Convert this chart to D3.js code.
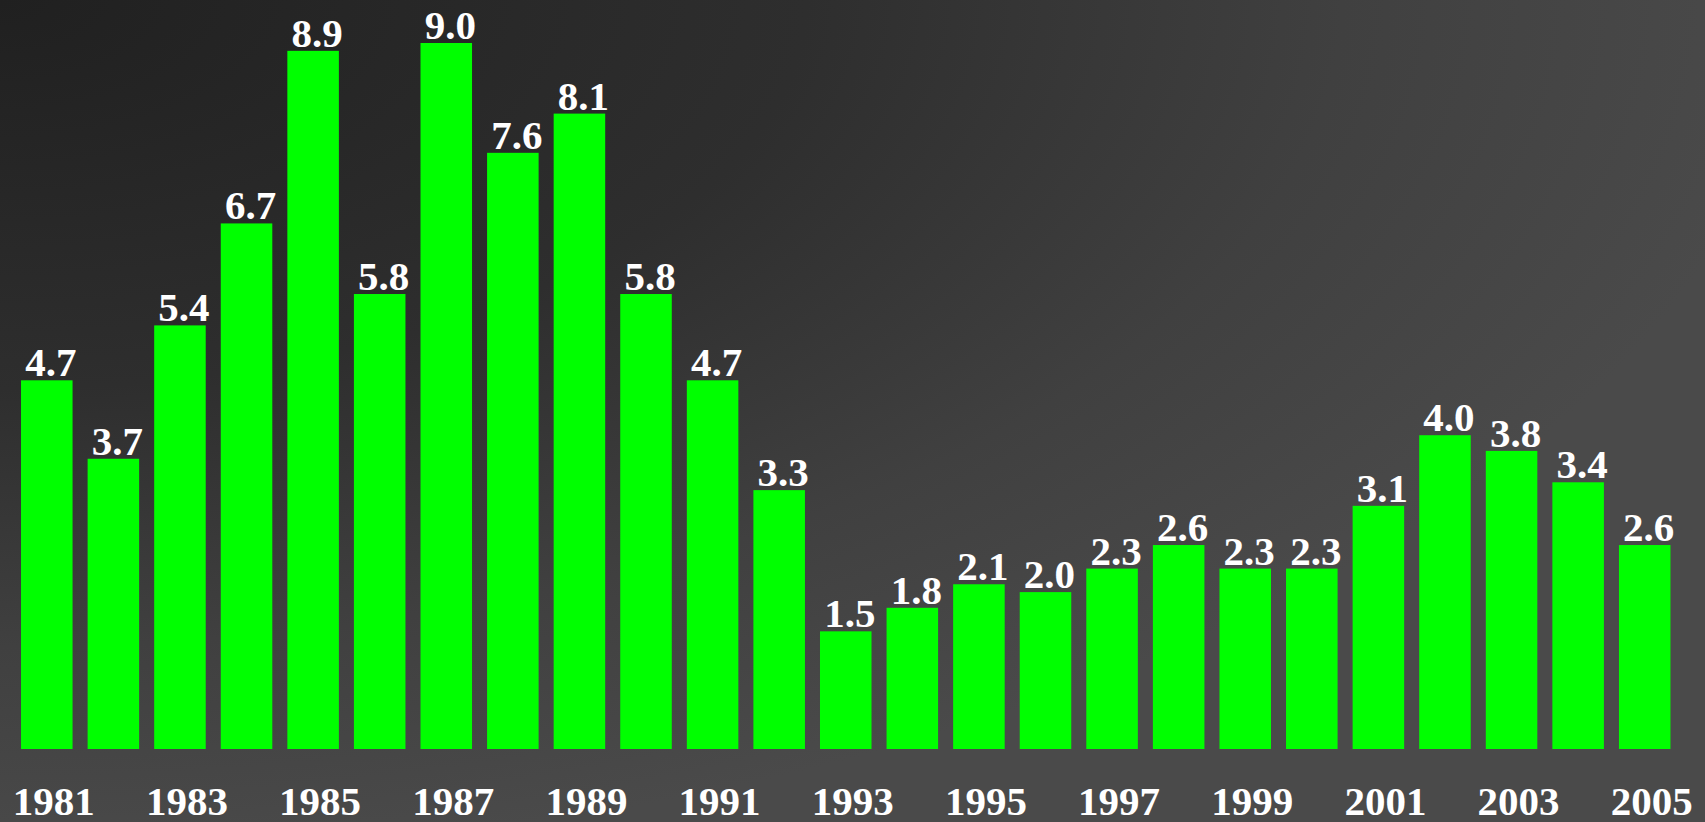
<!DOCTYPE html>
<html>
<head>
<meta charset="utf-8">
<script src="https://cdn.jsdelivr.net/npm/d3@7"></script>
<style>
  html, body { margin: 0; padding: 0; overflow: hidden; background: #333; }
  svg { display: block; }
</style>
</head>
<body>
<div id="chart"></div>
<script>
// Data
const years = [1981, 1982, 1983, 1984, 1985, 1986, 1987, 1988, 1989, 1990,
  1991, 1992, 1993, 1994, 1995, 1996, 1997, 1998, 1999, 2000,
  2001, 2002, 2003, 2004, 2005];
const values = [4.7, 3.7, 5.4, 6.7, 8.9, 5.8, 9.0, 7.6, 8.1, 5.8,
  4.7, 3.3, 1.5, 1.8, 2.1, 2.0, 2.3, 2.6, 2.3, 2.3,
  3.1, 4.0, 3.8, 3.4, 2.6];
const tickYears = [1981, 1983, 1985, 1987, 1989, 1991, 1993, 1995, 1997,
  1999, 2001, 2003, 2005];

const width = 1705, height = 822;
const data = years.map((y, i) => ({ year: y, value: values[i] }));

const svg = d3.select("#chart")
  .append("svg")
  .attr("width", width)
  .attr("height", height);

// Background: dark top-left fading to lighter grey
const defs = svg.append("defs");
const grad = defs.append("radialGradient")
  .attr("id", "bg")
  .attr("cx", 0).attr("cy", 0).attr("r", 1.05)
  .attr("fx", 0).attr("fy", 0);
grad.append("stop").attr("offset", 0).attr("stop-color", "#202020");
grad.append("stop").attr("offset", 0.45).attr("stop-color", "#2e2e2e");
grad.append("stop").attr("offset", 0.75).attr("stop-color", "#404040");
grad.append("stop").attr("offset", 1).attr("stop-color", "#4a4a4a");

svg.append("rect")
  .attr("width", width)
  .attr("height", height)
  .attr("fill", "url(#bg)");

const x = d3.scaleBand()
  .domain(years)
  .range([13.5, 1678])
  .paddingInner(0.226)
  .paddingOuter(0.113);

const y = d3.scaleLinear()
  .domain([0, 9])
  .range([749, 43]);

// Bars
svg.append("g")
  .selectAll("rect")
  .data(data)
  .join("rect")
  .attr("x", d => x(d.year))
  .attr("y", d => y(d.value))
  .attr("width", x.bandwidth())
  .attr("height", d => y(0) - y(d.value))
  .attr("fill", "#00ff00");

// Value labels
svg.append("g")
  .selectAll("text")
  .data(data)
  .join("text")
  .attr("x", d => x(d.year) + x.bandwidth() / 2 + 4)
  .attr("y", d => y(d.value) - 4)
  .attr("text-anchor", "middle")
  .style("font-family", "'Liberation Serif', 'Times New Roman', serif")
  .style("font-weight", "bold")
  .style("font-size", "41px")
  .style("fill", "#fff")
  .text(d => d.value.toFixed(1));

// Year axis labels (every other year)
svg.append("g")
  .selectAll("text")
  .data(tickYears)
  .join("text")
  .attr("x", d => x(d) + x.bandwidth() / 2 + 7)
  .attr("y", 815)
  .attr("text-anchor", "middle")
  .style("font-family", "'Liberation Serif', 'Times New Roman', serif")
  .style("font-weight", "bold")
  .style("font-size", "41px")
  .style("fill", "#fff")
  .text(d => d);
</script>
</body>
</html>
